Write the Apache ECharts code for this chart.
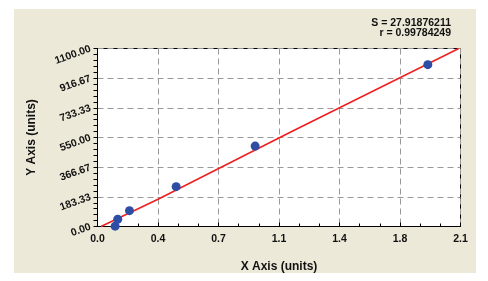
<!DOCTYPE html>
<html><head><meta charset="utf-8">
<script src="https://cdn.jsdelivr.net/npm/echarts@6/dist/echarts.min.js"></script>
<style>html,body{margin:0;padding:0;background:#fff}#c{width:488px;height:281px}</style>
</head><body><div id="c"></div>
<script>
const xValues = [0.102, 0.117, 0.185, 0.455, 0.912, 1.911];
const yValues = [2, 45, 98, 246, 497, 1000];
const fitX = [0.02, 0.35, 1.115, 2.09];
const fitY = [0, 168, 582, 1100];
const xTickLabels = ['0.0','0.4','0.7','1.1','1.4','1.8','2.1'];
const yTickLabels = ['0.00','183.33','366.67','550.00','733.33','916.67','1100.00'];
const statLines = ['S = 27.91876211', 'r = 0.99784249'];

const chart = echarts.init(document.getElementById('c'), null, {renderer:'canvas'});
const FONT = 'Liberation Sans, Arial, sans-serif';
chart.setOption({
  backgroundColor:'#ffffff',
  animation:false,
  graphic:[
    {type:'rect', z:-10, shape:{x:14,y:9,width:462,height:264}, style:{fill:'#ECE9D8'}},
    {type:'text', x:451, y:23, style:{text:statLines[0], font:'bold 10.5px '+FONT, fill:'#111', align:'right', verticalAlign:'middle'}},
    {type:'text', x:451, y:33.5, style:{text:statLines[1], font:'bold 10.5px '+FONT, fill:'#111', align:'right', verticalAlign:'middle'}}
  ],
  grid:{left:97.5, top:48.5, width:363, height:178, show:true, backgroundColor:'#ffffff', borderColor:'#000', borderWidth:1},
  xAxis:{type:'value', min:0, max:2.1, interval:0.35,
    name:'X Axis (units)', nameLocation:'middle', nameGap:34,
    nameTextStyle:{fontFamily:FONT, fontWeight:'bold', fontSize:12, color:'#111'},
    axisLine:{show:true, lineStyle:{color:'#000', width:1}},
    axisTick:{show:true, inside:true, length:4, lineStyle:{color:'#000'}},
    minorTick:{show:true, splitNumber:3, length:3, lineStyle:{color:'#000'}},
    axisLabel:{fontFamily:FONT, fontWeight:'bold', fontSize:10.5, color:'#111', margin:7,
      formatter:v=>xTickLabels[Math.round(v/0.35)]},
    splitLine:{show:true, lineStyle:{color:'#999', type:[6,4], width:1}}
  },
  yAxis:{type:'value', min:0, max:1100, interval:1100/6,
    name:'Y Axis (units)', nameLocation:'middle', nameGap:60, nameRotate:90,
    nameTextStyle:{fontFamily:FONT, fontWeight:'bold', fontSize:12, color:'#111'},
    axisLine:{show:true, lineStyle:{color:'#000', width:1}},
    axisTick:{show:true, inside:false, length:4, lineStyle:{color:'#000'}},
    minorTick:{show:true, splitNumber:5, length:4, lineStyle:{color:'#000'}},
    axisLabel:{fontFamily:FONT, fontWeight:'bold', fontSize:10.5, color:'#111', rotate:20, margin:7,
      formatter:v=>yTickLabels[Math.round(v/(1100/6))]},
    splitLine:{show:true, lineStyle:{color:'#999', type:[6,4], width:1}}
  },
  series:[
    {type:'line', data:fitX.map((x,i)=>[x,fitY[i]]), symbol:'none', smooth:false,
      lineStyle:{color:'#F02020', width:1.6}, z:3},
    {type:'scatter', data:xValues.map((x,i)=>[x,yValues[i]]), symbolSize:9,
      itemStyle:{color:'#2E4EA6', opacity:1}, z:4}
  ]
});
</script></body></html>
